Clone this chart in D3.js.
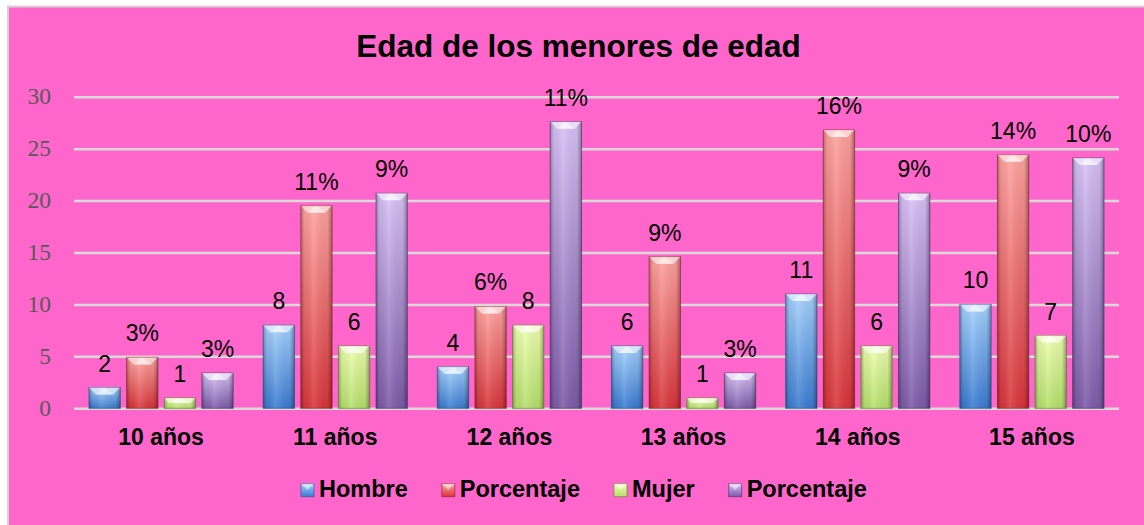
<!DOCTYPE html>
<html>
<head>
<meta charset="utf-8">
<script src="https://cdn.jsdelivr.net/npm/d3@7"></script>
<style>
  body { margin: 0; background: #fff; }
  svg { display: block; }
</style>
</head>
<body>
<svg id="chart" width="1144" height="525"></svg>
<script>
// data
const categories = ['10 años', '11 años', '12 años', '13 años', '14 años', '15 años'];
const seriesNames = ['Hombre', 'Porcentaje', 'Mujer', 'Porcentaje'];
const hombre = [2, 8, 4, 6, 11, 10];
const pctHombre = [4.9, 19.5, 9.8, 14.6, 26.8, 24.4];
const pctHombreLabels = ['3%', '11%', '6%', '9%', '16%', '14%'];
const mujer = [1, 6, 8, 1, 6, 7];
const pctMujer = [3.4, 20.7, 27.6, 3.4, 20.7, 24.1];
const pctMujerLabels = ['3%', '9%', '11%', '3%', '9%', '10%'];
const yTicks = [0, 5, 10, 15, 20, 25, 30];

const series = [
  { key: 's0', name: seriesNames[0], values: hombre, labels: hombre.map(String), top: '#a6d2ff', bottom: '#3a7bd0', edge: '#1f4f8a' },
  { key: 's1', name: seriesNames[1], values: pctHombre, labels: pctHombreLabels, top: '#ffa4a0', bottom: '#d8343a', edge: '#8a1f24' },
  { key: 's2', name: seriesNames[2], values: mujer, labels: mujer.map(String), top: '#eeffb0', bottom: '#b5e06a', edge: '#5d7a2a' },
  { key: 's3', name: seriesNames[3], values: pctMujer, labels: pctMujerLabels, top: '#d9c2f7', bottom: '#7c5aa8', edge: '#45306a' }
];

const svg = d3.select('#chart');
const margin = { top: 96.7, left: 74, right: 25, bottom: 116.7 },
  width = 1144 - margin.left - margin.right,
  height = 525 - margin.top - margin.bottom;

// background panel
svg.append('rect')
  .attr('x', 8).attr('y', 6.5)
  .attr('width', 1144).attr('height', 525)
  .attr('fill', '#ff66cc')
  .attr('stroke', '#d4d4d4')
  .attr('stroke-width', 2);

// gradients
const defs = svg.append('defs');
series.forEach((s) => {
  const g = defs.append('linearGradient').attr('id', 'grad-' + s.key)
    .attr('x1', 0).attr('y1', 0).attr('x2', 0).attr('y2', 1);
  g.append('stop').attr('offset', '0%').attr('stop-color', s.top);
  g.append('stop').attr('offset', '100%').attr('stop-color', s.bottom);
});
const side = defs.append('linearGradient').attr('id', 'side')
  .attr('x1', 0).attr('y1', 0).attr('x2', 1).attr('y2', 0);
side.append('stop').attr('offset', '0%').attr('stop-color', '#000').attr('stop-opacity', 0.3);
side.append('stop').attr('offset', '12%').attr('stop-color', '#000').attr('stop-opacity', 0.05);
side.append('stop').attr('offset', '40%').attr('stop-color', '#fff').attr('stop-opacity', 0.12);
side.append('stop').attr('offset', '85%').attr('stop-color', '#000').attr('stop-opacity', 0.05);
side.append('stop').attr('offset', '100%').attr('stop-color', '#000').attr('stop-opacity', 0.35);

// title
svg.append('text')
  .attr('x', 578.5).attr('y', 57.3)
  .attr('text-anchor', 'middle')
  .style('font-family', '"Liberation Sans", Arial, sans-serif')
  .style('font-weight', 'bold')
  .style('font-size', '31.5px')
  .text('Edad de los menores de edad');

const g = svg.append('g')
  .attr('transform', 'translate(' + margin.left + ',' + margin.top + ')');

const x0 = d3.scaleBand().domain(categories).range([0, width])
  .paddingInner(0.172).paddingOuter(0.086);
const x1 = d3.scaleBand().domain(series.map((s) => s.key)).range([0, x0.bandwidth()])
  .paddingInner(0.167);
const y = d3.scaleLinear().domain([0, 30]).range([height, 0]);

// y axis + gridlines
g.append('g')
  .attr('class', 'axis axis--y')
  .call(d3.axisLeft(y).tickValues(yTicks).tickSize(-width).tickPadding(23))
  .call((a) => a.select('.domain').remove())
  .call((a) => a.selectAll('line').attr('stroke', '#d9d9d9').attr('stroke-width', 2.5))
  .call((a) => a.selectAll('text')
    .attr('dy', '0.3em')
    .style('font-family', '"Liberation Serif", Cambria, serif')
    .style('font-size', '23.5px')
    .attr('fill', '#595959'));

// x axis labels
g.append('g')
  .attr('class', 'axis axis--x')
  .attr('transform', 'translate(0,' + height + ')')
  .call(d3.axisBottom(x0).tickSize(0).tickPadding(20))
  .call((a) => a.select('.domain').remove())
  .call((a) => a.selectAll('text')
    .style('font-family', '"Liberation Sans", Arial, sans-serif')
    .style('font-weight', 'bold')
    .style('font-size', '23px')
    .attr('fill', '#000'));

// bars
const rows = categories.map((c, i) => series.map((s) => ({
  cat: c, key: s.key, value: s.values[i], label: s.labels[i], s: s
})));

const groups = g.selectAll('.group')
  .data(rows)
  .enter()
  .append('g')
  .attr('class', 'group')
  .attr('transform', (d, i) => 'translate(' + x0(categories[i]) + ',0)');

const bars = groups.selectAll('.bar')
  .data((d) => d)
  .enter()
  .append('g')
  .attr('class', 'bar');

const bw = x1.bandwidth();

bars.append('rect')
  .attr('x', (d) => x1(d.key))
  .attr('y', (d) => y(d.value))
  .attr('width', bw)
  .attr('height', (d) => y(0) - y(d.value))
  .attr('fill', (d) => 'url(#grad-' + d.key + ')')
  .attr('stroke', (d) => d.s.edge)
  .attr('stroke-opacity', 0.6)
  .attr('stroke-width', 1);

bars.append('rect')
  .attr('x', (d) => x1(d.key))
  .attr('y', (d) => y(d.value))
  .attr('width', bw)
  .attr('height', (d) => y(0) - y(d.value))
  .attr('fill', 'url(#side)');

// top bevel
bars.append('path')
  .attr('d', (d) => {
    const bx = x1(d.key), by = y(d.value), bev = Math.min(7, (y(0) - y(d.value)) / 2);
    return 'M' + bx + ',' + by + 'L' + (bx + bw) + ',' + by +
      'L' + (bx + bw - bev) + ',' + (by + bev) + 'L' + (bx + bev) + ',' + (by + bev) + 'Z';
  })
  .attr('fill', '#fff')
  .attr('fill-opacity', 0.55);

bars.append('path')
  .attr('d', (d) => {
    const bx = x1(d.key), by = y(d.value), bev = Math.min(7, (y(0) - y(d.value)) / 2);
    return 'M' + (bx + bev) + ',' + (by + bev) + 'L' + (bx + bw / 2) + ',' + by +
      'L' + (bx + bw - bev) + ',' + (by + bev) + 'Z';
  })
  .attr('fill', '#fff')
  .attr('fill-opacity', 0.45);

// value labels
bars.append('text')
  .attr('x', (d) => x1(d.key) + bw / 2)
  .attr('y', (d) => y(d.value) - 16)
  .attr('text-anchor', 'middle')
  .style('font-family', '"Liberation Sans", Arial, sans-serif')
  .style('font-size', '23px')
  .attr('fill', '#000')
  .text((d) => d.label);

// legend
const legend = svg.append('g')
  .attr('transform', 'translate(301,496.7)');
let lx = 0;
series.forEach((s) => {
  const item = legend.append('g').attr('transform', 'translate(' + lx + ',0)');
  item.append('rect')
    .attr('x', 0).attr('y', -13)
    .attr('width', 13).attr('height', 13)
    .attr('fill', 'url(#grad-' + s.key + ')')
    .attr('stroke', s.edge).attr('stroke-opacity', 0.6);
  item.append('path')
    .attr('d', 'M0,-13L13,-13L6.5,-7Z')
    .attr('fill', '#fff').attr('fill-opacity', 0.55);
  const t = item.append('text')
    .attr('x', 18).attr('y', 0)
    .style('font-family', '"Liberation Sans", Arial, sans-serif')
    .style('font-weight', 'bold')
    .style('font-size', '23.5px')
    .text(s.name);
  lx += 18 + t.node().getComputedTextLength() + 34;
});
</script>
</body>
</html>
